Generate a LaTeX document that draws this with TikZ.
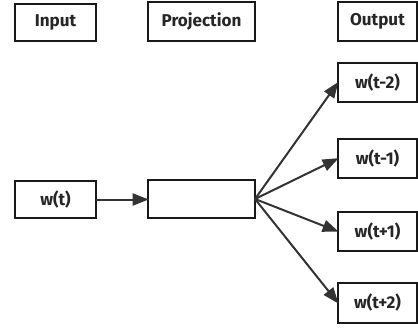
\documentclass[tikz,border=0pt]{standalone}
\usepackage{fontspec}
\setmainfont{Fira Sans}
\usetikzlibrary{arrows.meta}
\definecolor{ln}{HTML}{333333}
\tikzset{
  px/.style={x=0.75pt,y=-0.75pt},
  box/.style={draw=black!90,line width=1.5pt,fill=white,inner sep=0pt,font=\fontsize{12.8}{14}\selectfont\bfseries,text=black!85},
  conn/.style={draw=ln,line width=1.5pt,-{Triangle[length=12pt,width=9pt]},shorten >=-0.5pt}
}
\begin{document}
\begin{tikzpicture}[px]
\useasboundingbox (0,0) rectangle (418,328);
\fill[white] (0,0) rectangle (418,328);
% headings
\draw[box] (15,4) rectangle (96,41) node[midway] (hin) {Input};
\draw[box] (148,2) rectangle (255,41) node[midway] (hpr) {Projection};
\draw[box] (338,2) rectangle (417,41) node[midway] (hout) {Output};
% input and projection
\draw[box] (15,181) rectangle (96,218) node[midway] (wt) {w(t)};
\coordinate (wtE) at (96,199.5);
\draw[box] (148,180) rectangle (255,218) node[midway] (pr) {};
\coordinate (prW) at (148,199.5);
\coordinate (prE) at (255,199);
% outputs
\draw[box] (338,63) rectangle (417,102) node[midway] (o1) {w(t-2)};
\coordinate (o1W) at (338,82.5);
\draw[box] (338,139) rectangle (417,178) node[midway] (o2) {w(t-1)};
\coordinate (o2W) at (338,158.5);
\draw[box] (338,212) rectangle (417,251) node[midway] (o3) {w(t+1)};
\coordinate (o3W) at (338,231.5);
\draw[box] (338,283) rectangle (417,323) node[midway] (o4) {w(t+2)};
\coordinate (o4W) at (338,303);
% connectors
\draw[conn] (wtE) -- (prW);
\draw[conn] (prE) -- (o1W);
\draw[conn] (prE) -- (o2W);
\draw[conn] (prE) -- (o3W);
\draw[conn] (prE) -- (o4W);
\end{tikzpicture}
\end{document}
